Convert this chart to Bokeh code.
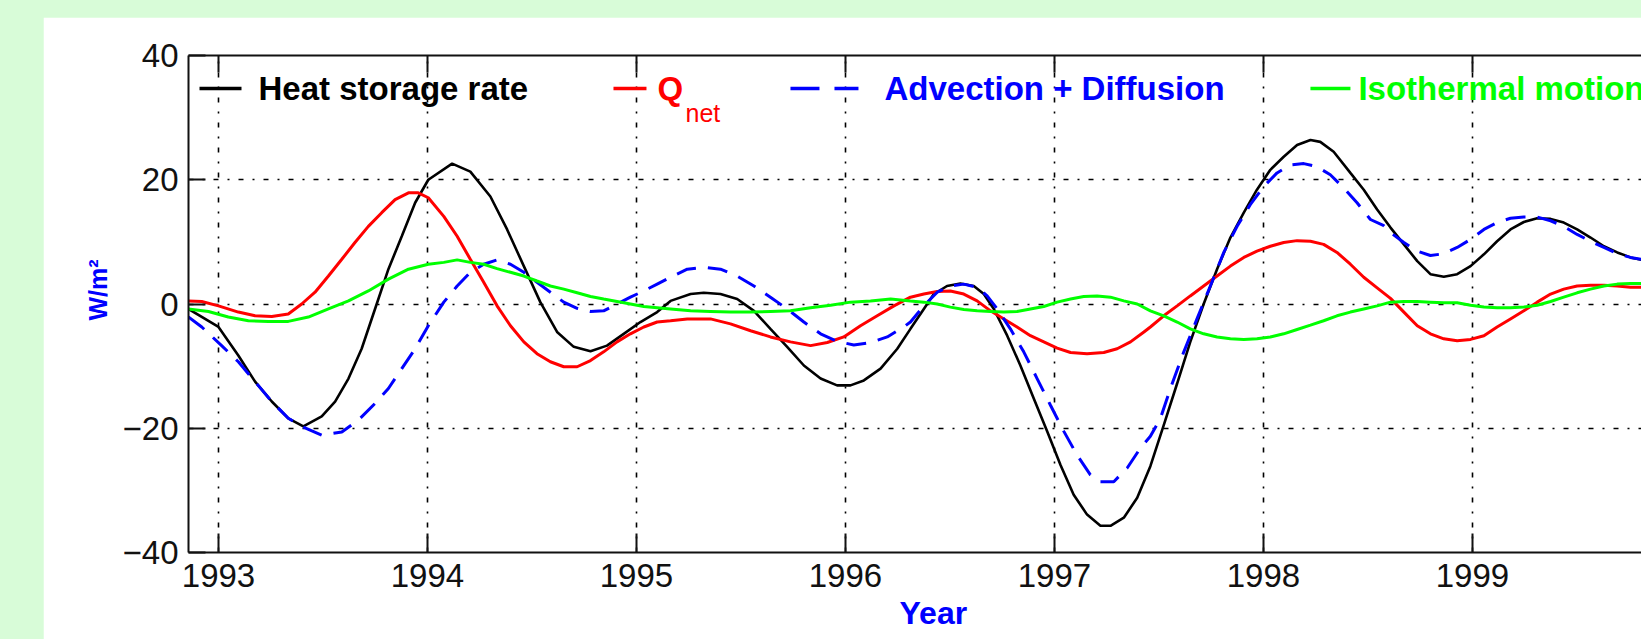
from bokeh.plotting import figure
from bokeh.models import LinearAxis, FixedTicker, Range1d, Title
from bokeh.layouts import column
from bokeh.core.properties import value
from bokeh.embed import file_html
from bokeh.resources import INLINE

# ---------------- data ----------------
year_ticks = [1993, 1994, 1995, 1996, 1997, 1998, 1999]
y_ticks = [-40, -20, 0, 20, 40]
y_tick_labels = {-40: "\u221240", -20: "\u221220", 0: "0", 20: "20", 40: "40"}

heat_x = [1992.856, 1993.000, 1993.095, 1993.175, 1993.255, 1993.334, 1993.406, 1993.494, 1993.558,
          1993.622, 1993.685, 1993.749, 1993.813, 1993.877, 1993.941, 1994.004,
          1994.118, 1994.205, 1994.301, 1994.381, 1994.461, 1994.540, 1994.620, 1994.700, 1994.780,
          1994.859, 1994.939, 1995.019, 1995.099,
          1995.163, 1995.259, 1995.322, 1995.402, 1995.482, 1995.562, 1995.641, 1995.721, 1995.801,
          1995.881, 1995.960, 1996.024, 1996.088, 1996.168, 1996.248,
          1996.311, 1996.375, 1996.423, 1996.486, 1996.550, 1996.614, 1996.662, 1996.710, 1996.774,
          1996.837, 1996.901, 1996.965, 1997.029, 1997.092, 1997.156, 1997.220, 1997.268, 1997.332, 1997.396,
          1997.459, 1997.523, 1997.587, 1997.650, 1997.714, 1997.778, 1997.842, 1997.906, 1997.969,
          1998.033, 1998.097, 1998.161, 1998.225, 1998.272, 1998.336, 1998.416, 1998.480, 1998.544,
          1998.608, 1998.672, 1998.736, 1998.799, 1998.863, 1998.927, 1998.991, 1999.055, 1999.118,
          1999.182, 1999.246, 1999.310, 1999.374, 1999.437, 1999.501, 1999.565, 1999.629, 1999.693,
          1999.756, 1999.809]
heat_y = [-0.8, -3.7, -8.3, -12.5, -15.7, -18.4, -19.7, -18.1, -15.7,
          -12.0, -7.2, -0.8, 5.6, 10.9, 16.3, 20.0,
          22.6, 21.3, 17.3, 12.0, 6.1, 0.3, -4.5, -6.9, -7.6,
          -6.7, -4.8, -2.9, -1.3,
          0.5, 1.6, 1.8, 1.6, 0.8, -1.1, -4.0, -6.9, -9.9,
          -12.0, -13.1, -13.1, -12.3, -10.4, -7.2,
          -4.0, -0.8, 1.6, 2.9, 3.3, 2.9, 1.6, -0.8, -5.1,
          -9.9, -15.2, -20.5, -25.9, -30.7, -33.9, -35.7, -35.7, -34.4, -31.2,
          -26.1, -19.5, -12.8, -6.1, 0.0, 5.6, 10.7, 14.7, 18.4,
          21.6, 23.7, 25.6, 26.4, 26.1, 24.5, 21.1, 18.4, 15.2,
          12.3, 9.6, 6.9, 4.8, 4.4, 4.8, 6.1, 8.0, 10.1,
          12.0, 13.2, 13.8, 13.7, 13.1, 12.0, 10.7, 9.3, 8.3,
          7.5, 7.1]

qnet_x = [1992.856, 1992.920, 1993.000, 1993.095, 1993.175, 1993.255, 1993.334, 1993.398, 1993.462,
          1993.526, 1993.590, 1993.653, 1993.717, 1993.781, 1993.845, 1993.909, 1993.956, 1994.004,
          1994.078, 1994.142, 1994.205, 1994.269, 1994.333, 1994.397, 1994.461, 1994.524, 1994.588,
          1994.652, 1994.716, 1994.780, 1994.843, 1994.907, 1994.971, 1995.035, 1995.099,
          1995.163, 1995.243, 1995.354, 1995.450, 1995.546, 1995.641, 1995.737, 1995.833, 1995.913,
          1995.992, 1996.072, 1996.152, 1996.232,
          1996.311, 1996.375, 1996.439, 1996.502, 1996.566, 1996.630, 1996.694, 1996.758, 1996.821,
          1996.885, 1996.949, 1997.013, 1997.077, 1997.156, 1997.236, 1997.300, 1997.364, 1997.428,
          1997.459, 1997.523, 1997.587, 1997.650, 1997.714, 1997.778, 1997.842, 1997.906, 1997.969,
          1998.033, 1998.097, 1998.161, 1998.225, 1998.288, 1998.352, 1998.416, 1998.480, 1998.544,
          1998.608, 1998.672, 1998.736, 1998.799, 1998.863, 1998.927, 1998.991, 1999.055, 1999.118,
          1999.182, 1999.246, 1999.310, 1999.374, 1999.437, 1999.501, 1999.565, 1999.629, 1999.693,
          1999.756, 1999.809]
qnet_y = [0.5, 0.4, -0.3, -1.3, -1.9, -2.0, -1.6, 0.0, 1.9,
          4.5, 7.2, 9.9, 12.5, 14.7, 16.8, 17.9, 17.9, 17.1,
          14.1, 10.9, 7.2, 3.5, -0.3, -3.5, -6.1, -8.0, -9.3,
          -10.1, -10.1, -9.1, -7.7, -6.1, -4.8, -3.7, -2.9,
          -2.7, -2.4, -2.4, -3.2, -4.3, -5.3, -6.1, -6.7, -6.2,
          -5.3, -3.5, -1.9, -0.3,
          1.1, 1.6, 2.0, 2.1, 1.6, 0.5, -1.1, -2.4, -3.7,
          -5.1, -6.1, -7.1, -7.8, -8.0, -7.8, -7.2, -6.1, -4.5,
          -3.7, -1.9, -0.3, 1.3, 2.9, 4.5, 6.1, 7.5, 8.5,
          9.3, 9.9, 10.2, 10.1, 9.6, 8.3, 6.4, 4.3, 2.6,
          0.9, -1.3, -3.5, -4.8, -5.6, -5.9, -5.7, -5.1, -3.7,
          -2.4, -1.1, 0.3, 1.6, 2.4, 2.9, 3.0, 3.0, 2.9,
          2.7, 2.7]

adv_x = [1992.856, 1992.920, 1993.015, 1993.095, 1993.175, 1993.255, 1993.334, 1993.398, 1993.494,
         1993.590, 1993.669, 1993.749, 1993.813, 1993.877, 1993.941, 1994.004,
         1994.078, 1994.142, 1994.205, 1994.269, 1994.333, 1994.397, 1994.461, 1994.524, 1994.588,
         1994.652, 1994.716, 1994.780, 1994.843, 1994.907, 1994.971, 1995.035, 1995.099,
         1995.163, 1995.243, 1995.322, 1995.402, 1995.482, 1995.562, 1995.641, 1995.721, 1995.801,
         1995.881, 1995.960, 1996.040, 1996.120, 1996.200, 1996.279,
         1996.311, 1996.375, 1996.439, 1996.502, 1996.566, 1996.630, 1996.678, 1996.726, 1996.789,
         1996.853, 1996.917, 1996.981, 1997.045, 1997.108, 1997.172, 1997.220, 1997.284, 1997.348, 1997.411,
         1997.459, 1997.507, 1997.555, 1997.619, 1997.682, 1997.746, 1997.810, 1997.874, 1997.937,
         1998.001, 1998.065, 1998.129, 1998.193, 1998.256, 1998.320, 1998.384, 1998.448, 1998.512, 1998.576,
         1998.608, 1998.672, 1998.736, 1998.799, 1998.863, 1998.927, 1998.991, 1999.055, 1999.118,
         1999.182, 1999.246, 1999.310, 1999.374, 1999.437, 1999.501, 1999.565, 1999.629, 1999.693,
         1999.756, 1999.809]
adv_y = [-2.1, -3.7, -6.7, -9.3, -12.5, -15.7, -18.4, -19.7, -21.1,
         -20.6, -18.7, -16.0, -13.6, -10.4, -7.2, -3.5,
         0.3, 2.9, 5.1, 6.4, 7.1, 6.4, 5.1, 3.5, 1.9,
         0.3, -0.7, -1.2, -1.1, 0.0, 1.1, 2.1, 3.2,
         4.3, 5.6, 5.9, 5.6, 4.5, 2.9, 1.1, -0.8, -2.9,
         -4.8, -6.0, -6.6, -6.2, -5.3, -3.7,
         -2.9, -0.3, 1.9, 2.9, 3.2, 2.7, 1.3, -0.8, -4.0,
         -7.7, -12.0, -16.3, -20.5, -24.3, -27.5, -28.6, -28.6, -26.4, -23.2,
         -21.3, -18.4, -13.6, -7.7, -2.4, 2.9, 8.3, 12.5, 16.0,
         18.9, 21.1, 22.4, 22.6, 22.1, 20.8, 18.7, 16.3, 13.6, 12.6,
         11.5, 9.9, 8.5, 7.8, 8.1, 9.1, 10.4, 12.0, 13.1,
         13.8, 14.0, 14.0, 13.4, 12.5, 11.2, 10.1, 9.1, 8.1,
         7.5, 7.2]

iso_x = [1992.856, 1992.952, 1993.047, 1993.143, 1993.239, 1993.334, 1993.430, 1993.526, 1993.622,
         1993.717, 1993.813, 1993.909, 1994.004,
         1994.078, 1994.142, 1994.205, 1994.269, 1994.333, 1994.397, 1994.461, 1994.524, 1994.588,
         1994.652, 1994.716, 1994.780, 1994.843, 1994.907, 1994.971, 1995.035, 1995.099,
         1995.163, 1995.259, 1995.354, 1995.450, 1995.546, 1995.641, 1995.737, 1995.833, 1995.929,
         1996.024, 1996.120, 1996.216,
         1996.311, 1996.375, 1996.439, 1996.502, 1996.566, 1996.630, 1996.694, 1996.758, 1996.821,
         1996.885, 1996.949, 1997.013, 1997.077, 1997.140, 1997.204, 1997.268, 1997.332, 1997.396,
         1997.459, 1997.523, 1997.587, 1997.650, 1997.714, 1997.778, 1997.842, 1997.906, 1997.969,
         1998.033, 1998.097, 1998.161, 1998.225, 1998.288, 1998.352, 1998.416, 1998.480, 1998.544,
         1998.608, 1998.672, 1998.736, 1998.799, 1998.863, 1998.927, 1998.991, 1999.055, 1999.118,
         1999.182, 1999.246, 1999.310, 1999.374, 1999.437, 1999.501, 1999.565, 1999.629, 1999.693,
         1999.756, 1999.809]
iso_y = [-0.8, -1.2, -2.1, -2.7, -2.8, -2.8, -2.1, -0.8, 0.5,
         2.1, 4.0, 5.6, 6.4,
         6.7, 7.1, 6.7, 6.4, 5.7, 5.1, 4.5, 3.7, 2.9,
         2.4, 1.8, 1.2, 0.8, 0.4, 0.0, -0.4, -0.6,
         -0.8, -1.1, -1.2, -1.3, -1.3, -1.2, -1.1, -0.6, -0.2,
         0.3, 0.5, 0.8,
         0.5, 0.3, 0.0, -0.5, -0.9, -1.1, -1.2, -1.3, -1.2,
         -0.8, -0.4, 0.3, 0.8, 1.2, 1.3, 1.1, 0.5, 0.0,
         -1.1, -1.9, -2.9, -4.0, -4.8, -5.3, -5.6, -5.7, -5.6,
         -5.3, -4.8, -4.1, -3.4, -2.7, -1.9, -1.3, -0.8, -0.3,
         0.3, 0.4, 0.4, 0.3, 0.2, 0.2, -0.2, -0.5, -0.6,
         -0.6, -0.5, -0.2, 0.4, 1.1, 1.8, 2.4, 2.9, 3.2,
         3.3, 3.3]

series_names = ["Heat storage rate", "Q", "Advection + Diffusion", "Isothermal motion"]
x_title = "Year"
y_title = "W/m\u00b2"

# ---------------- layout / style ----------------
X_START, X_END = 1992.8565, 1999.809
Y_START, Y_END = -40, 40
FONT = "Liberation Sans"
BLACK, RED, BLUE, GREEN = "#000000", "#ff0000", "#0000ff", "#00ff00"
PAGE_BG = "#d8fcd8"

# page-pixel helpers for the in-plot legend
FRAME_L, FRAME_T, FRAME_B = 188, 55, 552
PX_PER_X = 209.0
PX_PER_Y = (FRAME_B - FRAME_T) / (Y_END - Y_START)


def px2x(px):
    return X_START + (px - FRAME_L) / PX_PER_X


def py2y(py):
    return Y_END - (py - FRAME_T) / PX_PER_Y


p = figure(width=1598, height=622,
           x_range=Range1d(X_START, X_END), y_range=Range1d(Y_START, Y_END),
           output_backend="svg", toolbar_location=None,
           min_border_left=145, min_border_right=0, min_border_top=38, min_border_bottom=87,
           background_fill_color="white", border_fill_color="white",
           outline_line_color=None)
p.margin = (17, 0, 0, 43)

# axes
xa = p.xaxis[0]
xa.ticker = FixedTicker(ticks=year_ticks)
ya = p.yaxis[0]
ya.ticker = FixedTicker(ticks=y_ticks)
ya.major_label_overrides = y_tick_labels

for ax in (xa, ya):
    ax.axis_line_color = "#111111"
    ax.axis_line_width = 2
    ax.major_tick_line_color = "#111111"
    ax.major_tick_line_width = 2
    ax.major_tick_out = 0
    ax.minor_tick_line_color = None
    ax.major_label_text_font = FONT
    ax.major_label_text_font_size = "33px"
    ax.major_label_text_color = "#111111"

xa.major_tick_in = 19
xa.major_label_standoff = 11
xa.major_label_text_line_height = 1.0
ya.major_tick_in = 17
ya.major_label_standoff = 10

top = LinearAxis(ticker=FixedTicker(ticks=year_ticks),
                 axis_line_color="#111111", axis_line_width=2,
                 major_tick_line_color="#111111", major_tick_line_width=2,
                 major_tick_in=17, major_tick_out=0, minor_tick_line_color=None,
                 major_label_text_font_size="8px", major_label_text_color=None,
                 major_label_text_alpha=0, major_label_standoff=0)
p.add_layout(top, "above")

# axis titles as side-panel titles, shifted like in the original
p.add_layout(Title(text=x_title, text_color=BLUE, text_font=FONT, text_font_style="bold",
                   text_font_size="32px", align="left", offset=711, standoff=6), "below")
p.add_layout(Title(text=y_title, text_color=BLUE, text_font=FONT, text_font_style="bold",
                   text_font_size="25px", align="left", offset=232, standoff=16), "left")

# grid
for g in (p.xgrid[0], p.ygrid[0]):
    g.grid_line_color = "#000000"
    g.grid_line_width = 1.6
    g.grid_line_dash = "5 9 2 9"
    g.grid_line_alpha = 1.0
p.xgrid[0].ticker = FixedTicker(ticks=year_ticks)
p.ygrid[0].ticker = FixedTicker(ticks=[-20, 0, 20])

# series
p.line(heat_x, heat_y, line_color=BLACK, line_width=2.6)
p.line(qnet_x, qnet_y, line_color=RED, line_width=3)
p.line(adv_x, adv_y, line_color=BLUE, line_width=3, line_dash="20 12")
p.line(iso_x, iso_y, line_color=GREEN, line_width=3)

# legend (drawn inside the frame)
LEG_PY = 88
leg_y = py2y(LEG_PY)
p.line([px2x(199), px2x(241)], [leg_y, leg_y], line_color=BLACK, line_width=3.5)
p.line([px2x(613), px2x(646)], [leg_y, leg_y], line_color=RED, line_width=3.5)
p.segment(x0=[px2x(790), px2x(834)], x1=[px2x(819), px2x(858)], y0=[leg_y, leg_y], y1=[leg_y, leg_y],
          line_color=BLUE, line_width=3.5)
p.line([px2x(1310), px2x(1350)], [leg_y, leg_y], line_color=GREEN, line_width=3.5)

label_xs = [px2x(258), px2x(657), px2x(884), px2x(1358)]
label_cols = [BLACK, RED, BLUE, GREEN]
for name, lx, col in zip(series_names, label_xs, label_cols):
    p.text(x=[lx], y=[leg_y], text=[name], text_color=col, text_font=value(FONT),
           text_font_style="bold", text_font_size="33px", text_baseline="middle", text_align="left")
p.text(x=[px2x(685)], y=[py2y(112)], text=["net"], text_color=RED, text_font=value(FONT),
       text_font_size="25px", text_baseline="middle", text_align="left")

layout = column(p, styles={"background-color": PAGE_BG}, width=1641, height=639)

html = file_html(layout, INLINE, title="Heat budget")
html = html.replace("<head>", "<head><style>html,body{margin:0;padding:0;background:%s;}</style>" % PAGE_BG, 1)
open("out.html", "w").write(html)
